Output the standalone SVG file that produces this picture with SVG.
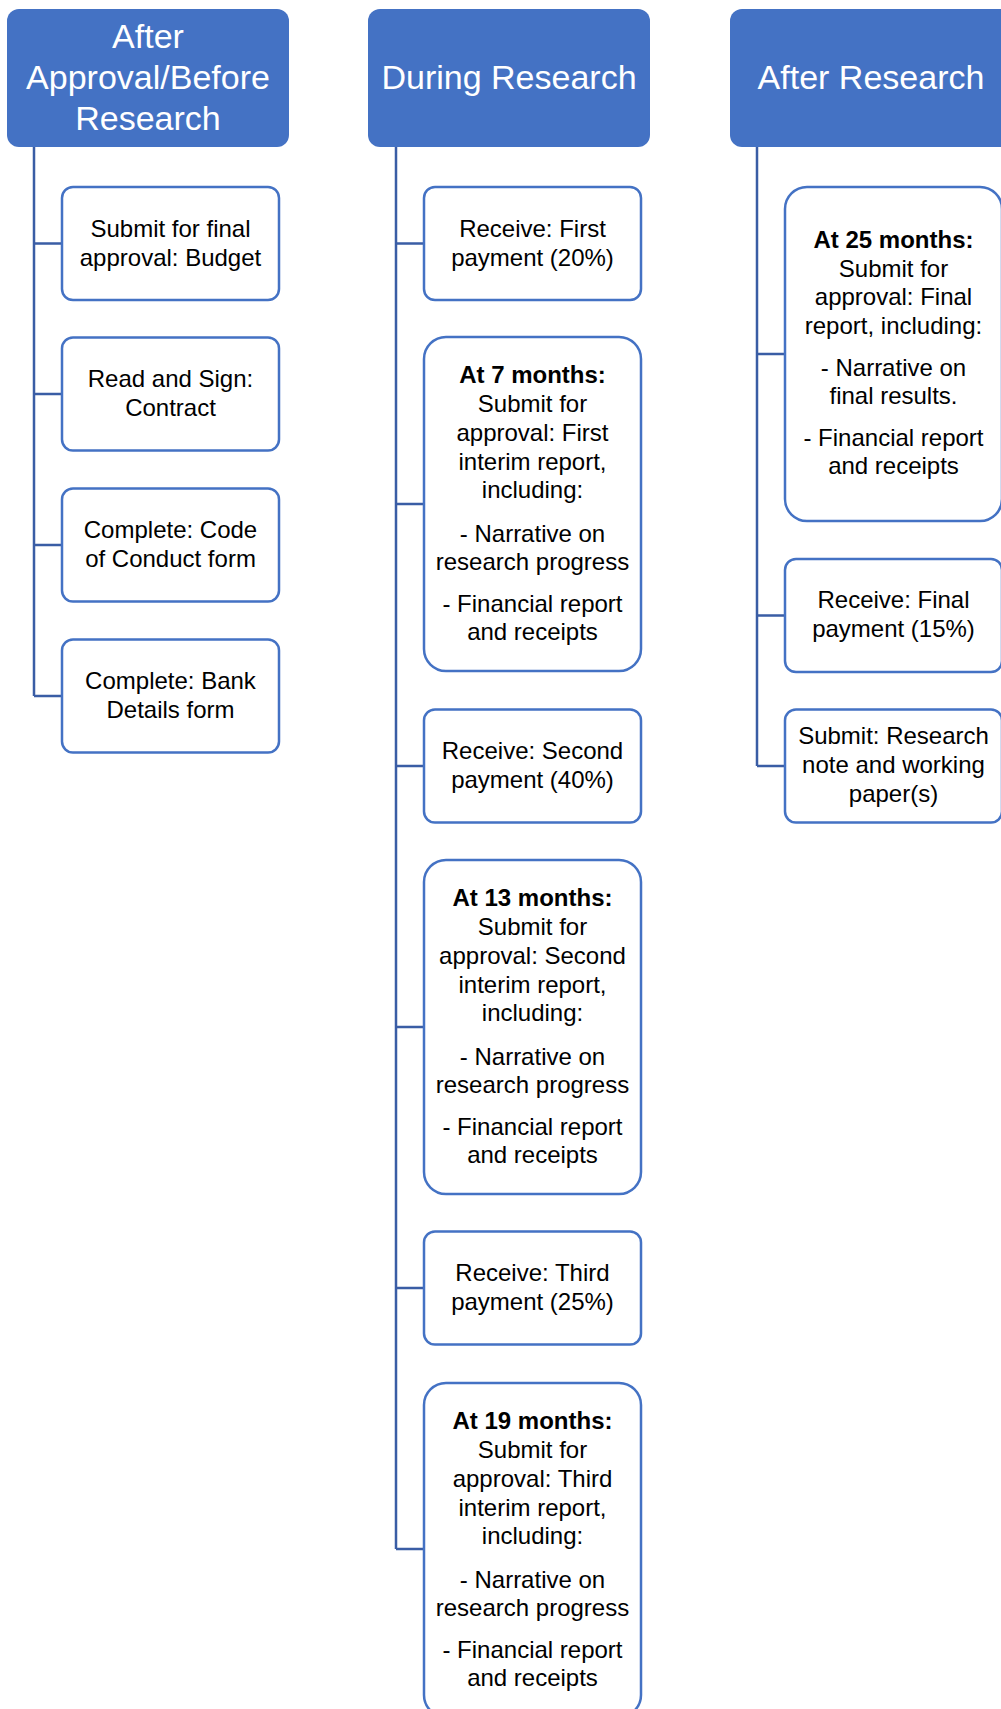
<svg xmlns="http://www.w3.org/2000/svg" width="1001" height="1709" viewBox="0 0 1001 1709">
<style>
.hdr{fill:#4472C4;}
.htxt{font-family:"Liberation Sans",Arial,sans-serif;font-size:34px;fill:#ffffff;text-anchor:middle;}
.box{fill:#ffffff;stroke:#4472C4;stroke-width:2.5;}
.txt{font-family:"Liberation Sans",Arial,sans-serif;font-size:24px;fill:#000000;text-anchor:middle;}
.b{font-weight:bold;}
.con{fill:none;stroke:#3A5DA5;stroke-width:2.5;}
</style>
<rect x="0" y="0" width="1001" height="1709" fill="#ffffff"/>
<g id="connectors">
<path class="con" d="M34,147 V696 M34,243.5 H62 M34,394 H62 M34,545 H62 M34,696 H62"/>
<path class="con" d="M396,147 V1549 M396,243.5 H424 M396,504 H424 M396,766 H424 M396,1027 H424 M396,1288 H424 M396,1549 H424"/>
<path class="con" d="M757,147 V766 M757,354 H785 M757,615.5 H785 M757,766 H785"/>
</g>
<g id="h1">
<rect class="hdr" x="7" y="9" width="282" height="138" rx="12"/>
<text class="htxt" x="148" y="48">After</text>
<text class="htxt" x="148" y="89">Approval/Before</text>
<text class="htxt" x="148" y="130">Research</text>
</g>
<g id="h2">
<rect class="hdr" x="368" y="9" width="282" height="138" rx="12"/>
<text class="htxt" x="509" y="89">During Research</text>
</g>
<g id="h3">
<rect class="hdr" x="730" y="9" width="282" height="138" rx="12"/>
<text class="htxt" x="871" y="89">After Research</text>
</g>
<g id="n1a">
<rect class="box" x="62" y="187" width="217" height="113" rx="11"/>
<text class="txt" x="170.5" y="237">Submit for final</text>
<text class="txt" x="170.5" y="266">approval: Budget</text>
</g>
<g id="n1b">
<rect class="box" x="62" y="337.5" width="217" height="113" rx="11"/>
<text class="txt" x="170.5" y="387">Read and Sign:</text>
<text class="txt" x="170.5" y="416">Contract</text>
</g>
<g id="n1c">
<rect class="box" x="62" y="488.5" width="217" height="113" rx="11"/>
<text class="txt" x="170.5" y="538">Complete: Code</text>
<text class="txt" x="170.5" y="567">of Conduct form</text>
</g>
<g id="n1d">
<rect class="box" x="62" y="639.5" width="217" height="113" rx="11"/>
<text class="txt" x="170.5" y="689">Complete: Bank</text>
<text class="txt" x="170.5" y="718">Details form</text>
</g>
<g id="n2a">
<rect class="box" x="424" y="187" width="217" height="113" rx="11"/>
<text class="txt" x="532.5" y="237">Receive: First</text>
<text class="txt" x="532.5" y="266">payment (20%)</text>
</g>
<g id="n2b">
<rect class="box" x="424" y="337" width="217" height="334" rx="22"/>
<text class="txt b" x="532.5" y="383">At 7 months:</text>
<text class="txt" x="532.5" y="412">Submit for</text>
<text class="txt" x="532.5" y="441">approval: First</text>
<text class="txt" x="532.5" y="470">interim report,</text>
<text class="txt" x="532.5" y="498">including:</text>
<text class="txt" x="532.5" y="542">- Narrative on</text>
<text class="txt" x="532.5" y="570">research progress</text>
<text class="txt" x="532.5" y="612">- Financial report</text>
<text class="txt" x="532.5" y="640">and receipts</text>
</g>
<g id="n2c">
<rect class="box" x="424" y="709.5" width="217" height="113" rx="11"/>
<text class="txt" x="532.5" y="759">Receive: Second</text>
<text class="txt" x="532.5" y="788">payment (40%)</text>
</g>
<g id="n2d">
<rect class="box" x="424" y="860" width="217" height="334" rx="22"/>
<text class="txt b" x="532.5" y="906">At 13 months:</text>
<text class="txt" x="532.5" y="935">Submit for</text>
<text class="txt" x="532.5" y="964">approval: Second</text>
<text class="txt" x="532.5" y="993">interim report,</text>
<text class="txt" x="532.5" y="1021">including:</text>
<text class="txt" x="532.5" y="1065">- Narrative on</text>
<text class="txt" x="532.5" y="1093">research progress</text>
<text class="txt" x="532.5" y="1135">- Financial report</text>
<text class="txt" x="532.5" y="1163">and receipts</text>
</g>
<g id="n2e">
<rect class="box" x="424" y="1231.5" width="217" height="113" rx="11"/>
<text class="txt" x="532.5" y="1281">Receive: Third</text>
<text class="txt" x="532.5" y="1310">payment (25%)</text>
</g>
<g id="n2f">
<rect class="box" x="424" y="1383" width="217" height="334" rx="22"/>
<text class="txt b" x="532.5" y="1429">At 19 months:</text>
<text class="txt" x="532.5" y="1458">Submit for</text>
<text class="txt" x="532.5" y="1487">approval: Third</text>
<text class="txt" x="532.5" y="1516">interim report,</text>
<text class="txt" x="532.5" y="1544">including:</text>
<text class="txt" x="532.5" y="1588">- Narrative on</text>
<text class="txt" x="532.5" y="1616">research progress</text>
<text class="txt" x="532.5" y="1658">- Financial report</text>
<text class="txt" x="532.5" y="1686">and receipts</text>
</g>
<g id="n3a">
<rect class="box" x="785" y="187" width="217" height="334" rx="22"/>
<text class="txt b" x="893.5" y="248">At 25 months:</text>
<text class="txt" x="893.5" y="277">Submit for</text>
<text class="txt" x="893.5" y="305">approval: Final</text>
<text class="txt" x="893.5" y="334">report, including:</text>
<text class="txt" x="893.5" y="376">- Narrative on</text>
<text class="txt" x="893.5" y="404">final results.</text>
<text class="txt" x="893.5" y="446">- Financial report</text>
<text class="txt" x="893.5" y="474">and receipts</text>
</g>
<g id="n3b">
<rect class="box" x="785" y="559" width="217" height="113" rx="11"/>
<text class="txt" x="893.5" y="608">Receive: Final</text>
<text class="txt" x="893.5" y="637">payment (15%)</text>
</g>
<g id="n3c">
<rect class="box" x="785" y="709.5" width="217" height="113" rx="11"/>
<text class="txt" x="893.5" y="744">Submit: Research</text>
<text class="txt" x="893.5" y="773">note and working</text>
<text class="txt" x="893.5" y="802">paper(s)</text>
</g>
</svg>
